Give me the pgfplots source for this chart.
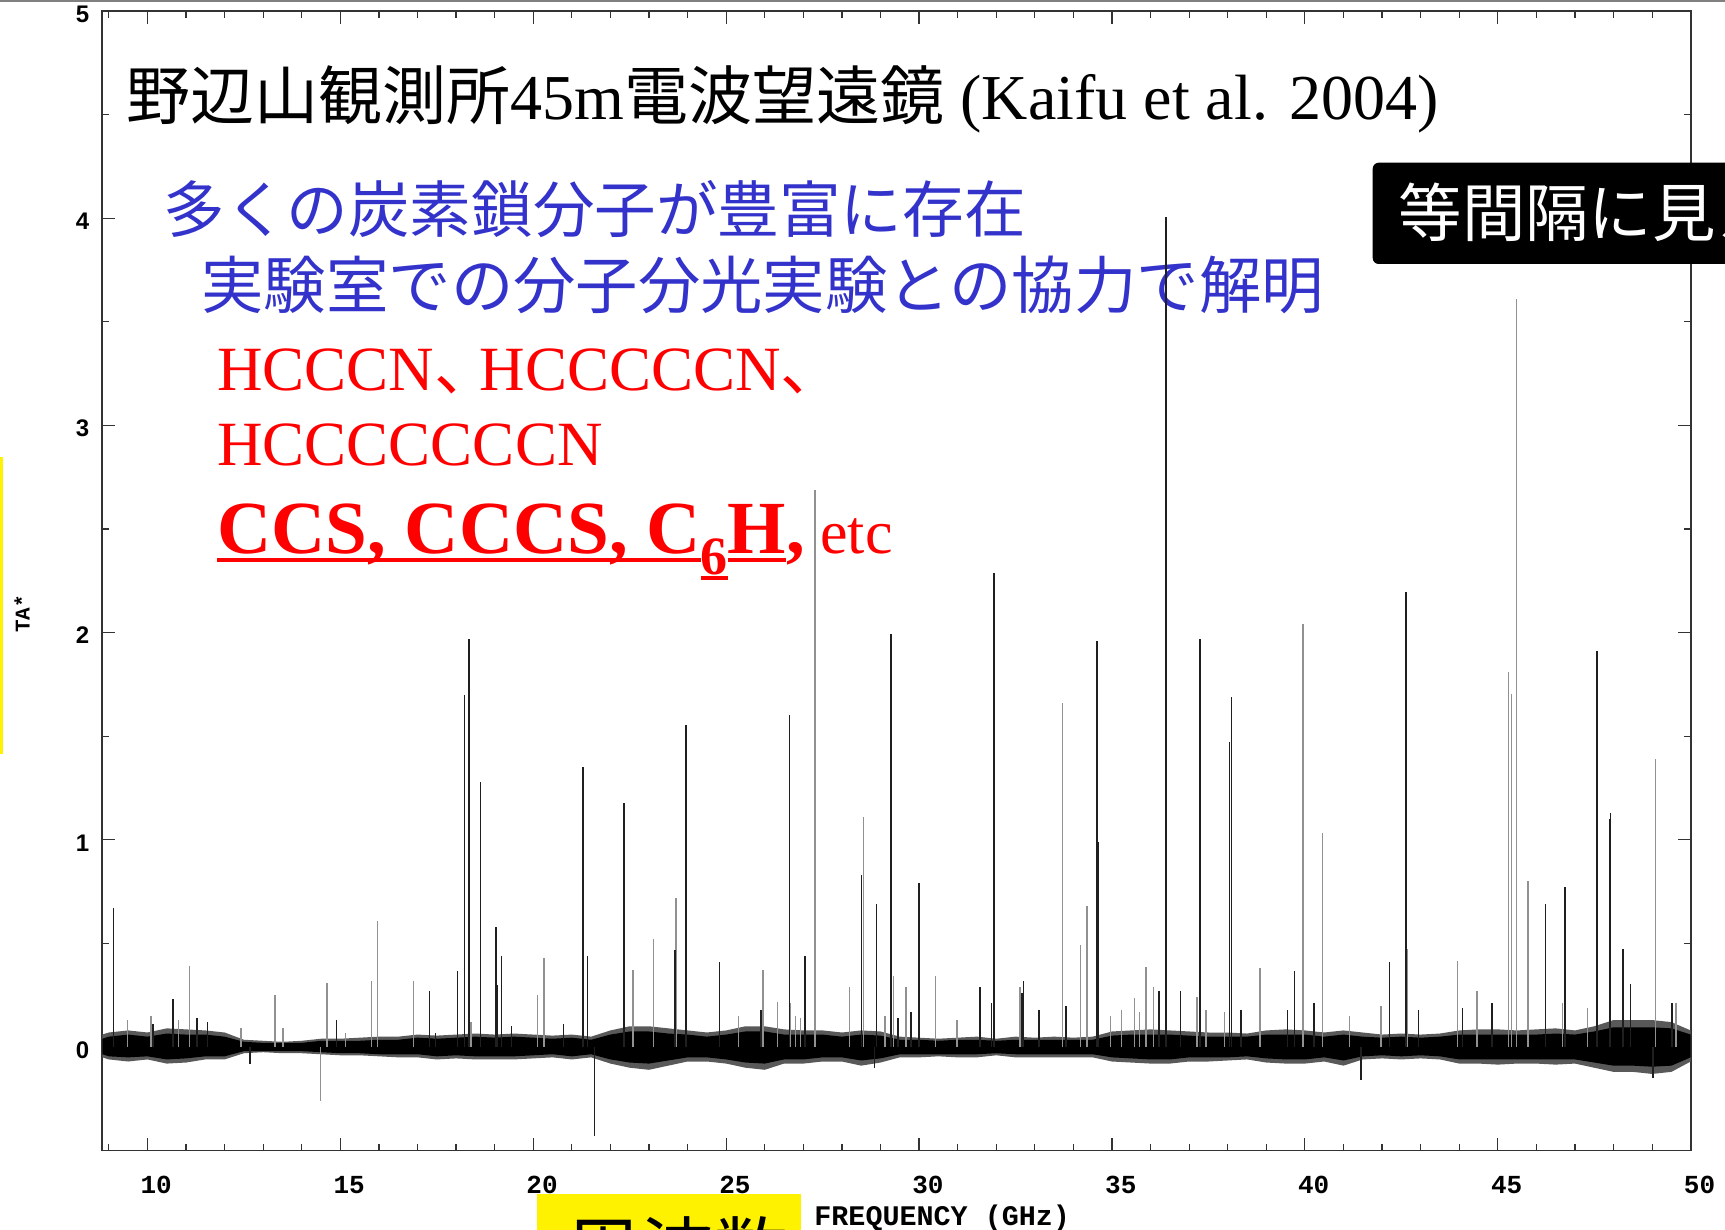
\documentclass[border=0pt]{standalone}
\usepackage{pgfplots}
\pgfplotsset{compat=1.18}
\usepackage{pgfplotstable}
\usepackage{fontspec}
\setmainfont{Liberation Serif}
\newfontfamily\jp{Noto Sans CJK JP}
\newfontfamily\monof{Liberation Mono}
\newfontfamily\sansf{Liberation Sans}
\definecolor{blueT}{RGB}{51,51,204}
\definecolor{grayline}{RGB}{145,145,145}
\newcommand\ulx[2]{\setbox0\hbox{#2}\rlap{\raisebox{-#1}{\rule{\wd0}{2pt}}}\box0}
\newcommand\jcomma{\makebox[0.72em][l]{\jp 、}}

% noise envelope: f, outer upper, outer lower, inner upper, inner lower
\pgfplotstableread{
f u l ui li
8.83 .06 -.05 .04 -.035
9.0 .07 -.06 .05 -.045
9.5 .08 -.07 .06 -.05
10.0 .07 -.06 .05 -.045
10.5 .09 -.08 .065 -.06
11.0 .085 -.075 .06 -.055
11.5 .08 -.06 .06 -.045
12.0 .07 -.06 .05 -.045
12.5 .035 -.03 .025 -.02
13.0 .03 -.025 .02 -.02
13.5 .025 -.03 .02 -.02
14.0 .03 -.03 .02 -.02
14.5 .04 -.035 .03 -.025
15.0 .04 -.04 .03 -.03
15.5 .045 -.04 .03 -.03
16.0 .05 -.045 .035 -.035
16.5 .05 -.05 .035 -.035
17.0 .06 -.05 .045 -.035
17.5 .055 -.06 .04 -.045
18.0 .06 -.055 .045 -.04
18.5 .065 -.06 .05 -.045
19.0 .06 -.06 .045 -.045
19.5 .065 -.06 .05 -.045
20.0 .06 -.055 .045 -.04
20.5 .055 -.05 .04 -.035
21.0 .06 -.06 .045 -.045
21.5 .05 -.05 .035 -.035
22.0 .08 -.08 .06 -.06
22.5 .10 -.10 .075 -.075
23.0 .10 -.11 .075 -.08
23.5 .09 -.09 .065 -.065
24.0 .08 -.07 .06 -.05
24.5 .07 -.07 .05 -.05
25.0 .08 -.08 .06 -.06
25.5 .10 -.10 .075 -.075
26.0 .10 -.11 .075 -.08
26.5 .085 -.08 .06 -.06
27.0 .08 -.08 .06 -.06
27.5 .08 -.07 .06 -.05
28.0 .07 -.07 .05 -.05
28.5 .08 -.09 .06 -.065
29.0 .075 -.075 .055 -.055
29.5 .05 -.05 .035 -.035
30.0 .045 -.05 .035 -.035
30.5 .04 -.045 .03 -.035
31.0 .045 -.05 .035 -.035
31.5 .05 -.05 .035 -.035
32.0 .04 -.04 .03 -.03
32.5 .05 -.05 .035 -.035
33.0 .045 -.05 .035 -.035
33.5 .05 -.05 .035 -.035
34.0 .045 -.05 .035 -.035
34.5 .05 -.05 .035 -.035
35.0 .075 -.07 .055 -.05
35.5 .08 -.075 .06 -.055
36.0 .085 -.08 .06 -.06
36.5 .08 -.08 .06 -.06
37.0 .075 -.07 .055 -.05
37.5 .07 -.07 .05 -.05
38.0 .07 -.065 .05 -.05
38.5 .065 -.06 .05 -.045
39.0 .08 -.075 .06 -.055
39.5 .085 -.08 .06 -.06
40.0 .08 -.08 .06 -.06
40.5 .07 -.07 .05 -.05
41.0 .08 -.09 .06 -.065
41.5 .07 -.06 .05 -.045
42.0 .06 -.055 .045 -.04
42.5 .065 -.06 .05 -.045
43.0 .06 -.055 .045 -.04
43.5 .065 -.06 .05 -.045
44.0 .08 -.08 .06 -.06
44.5 .085 -.08 .06 -.06
45.0 .085 -.085 .06 -.06
45.5 .08 -.08 .06 -.06
46.0 .085 -.08 .06 -.06
46.5 .09 -.085 .065 -.06
47.0 .08 -.08 .06 -.06
47.5 .10 -.10 .075 -.075
48.0 .13 -.12 .095 -.09
48.5 .13 -.12 .095 -.09
49.0 .13 -.13 .095 -.095
49.5 .12 -.12 .09 -.09
50.0 .08 -.07 .06 -.05
}\noise

\begin{document}
\begin{tikzpicture}
\path[use as bounding box] (0pt,0pt) rectangle (862.5pt,-615pt);
\clip (0pt,0pt) rectangle (862.5pt,-615pt);
\begin{scope}[x=0.5pt,y=-0.5pt]
  \fill[black!50] (0,0) rectangle (1725,2);
  \fill[yellow] (0,456.5) rectangle (3.3,753.5);
  % title
  \node[anchor=base west, inner sep=0] at (126.5,120)
    {\fontsize{32}{32}\selectfont{\jp 野辺山観測所}45m{\jp 電波望遠鏡} (Kaifu et al. 2004)};
  \node[anchor=base west, inner sep=0, text=blueT] at (163,233)
    {\jp\fontsize{30.8}{30.8}\selectfont 多くの炭素鎖分子が豊富に存在};
  \node[anchor=base west, inner sep=0, text=blueT] at (201,309)
    {\jp\fontsize{31.2}{31.2}\selectfont 実験室での分子分光実験との協力で解明};
  \node[anchor=base west, inner sep=0, text=red] at (217,390.7)
    {\fontsize{31.5}{31.5}\selectfont HCCCN\jcomma HCCCCCN\jcomma};
  \node[anchor=base west, inner sep=0, text=red] at (217,466)
    {\fontsize{31.5}{31.5}\selectfont HCCCCCCCN};
  \node[anchor=base west, inner sep=0, text=red] at (217,553.3)
    {\fontsize{37.5}{37.5}\selectfont\bfseries \ulx{4.35pt}{CCS, CCCS, C}\raisebox{-10.5pt}{\fontsize{27}{27}\selectfont\ulx{2.8pt}{6}}\ulx{4.35pt}{H},\mdseries\fontsize{31}{31}\selectfont\ etc};
  \node[rotate=90] at (22,614) {\monof\bfseries\fontsize{10.5}{10.5}\selectfont TA*};
  \node[anchor=west, inner sep=0] at (814,1218) {\monof\bfseries\fontsize{14.2}{14.2}\selectfont FREQUENCY (GHz)};
\end{scope}

\begin{axis}[
  at={(51.15pt,-575.3pt)}, anchor=south west,
  width=794.2pt, height=569.8pt, scale only axis,
  xmin=8.83, xmax=50, ymin=-0.5, ymax=5,
  xtick={10,15,...,50}, minor xtick={9,10,...,49},
  ytick={0,1,...,5}, minor ytick={0.5,1.5,...,4.5},
  tick align=inside,
  major tick length=6.5pt, minor tick length=3.4pt,
  axis line style={black!80, line width=0.8pt},
  tick style={black!80, line width=0.6pt},
  xticklabel style={font=\monof\bfseries\fontsize{13}{13}\selectfont, anchor=center, yshift=-17pt, xshift=4.4pt},
  yticklabel style={font=\sansf\bfseries\fontsize{12}{12}\selectfont, anchor=center, xshift=-9.9pt, yshift=-1.5pt},
  /pgf/number format/assume math mode=true,
]
  \addplot[fill=black!65, draw=none] table[x=f,y=u]{\noise} \closedcycle;
  \addplot[fill=black!65, draw=none] table[x=f,y=l]{\noise} \closedcycle;
  \addplot[fill=black, draw=none] table[x=f,y=ui]{\noise} \closedcycle;
  \addplot[fill=black, draw=none] table[x=f,y=li]{\noise} \closedcycle;

  % grey lines
  \addplot[ycomb, grayline, line width=0.7pt] coordinates {
    (9.49,0.13) (10.09,0.15) (10.81,0.13) (11.09,0.39) (12.42,0.09) (13.31,0.25)
    (13.51,0.09) (14.49,-0.26) (14.65,0.31) (15.13,0.07) (15.8,0.32) (15.96,0.61)
    (16.89,0.32) (18.39,0.12) (20.11,0.25) (20.28,0.43) (22.58,0.37) (23.12,0.52)
    (23.70,0.72) (25.32,0.15) (25.95,0.37) (26.33,0.215) (26.67,0.21) (26.79,0.15)
    (26.92,0.14) (27.30,2.69) (28.19,0.29) (28.56,1.11) (29.12,0.15) (29.33,0.345)
    (29.66,0.29) (30.43,0.345) (30.98,0.13) (32.62,0.29) (33.72,1.66) (34.18,0.49)
    (34.35,0.68) (34.96,0.15) (35.25,0.18) (35.58,0.235) (35.71,0.17) (35.88,0.385)
    (36.07,0.29) (37.20,0.24) (37.44,0.18) (37.91,0.17) (38.84,0.38) (39.95,2.04)
    (40.45,1.035) (41.15,0.15) (41.97,0.20) (42.66,0.475) (43.96,0.415) (44.46,0.27)
    (45.27,1.81) (45.36,1.705) (45.48,3.61) (45.78,0.80) (46.67,0.21) (47.33,0.19)
    (49.08,1.39) (49.62,0.21)
  };
  % black lines
  \addplot[ycomb, black!88, line width=0.7pt] coordinates {
    (9.12,0.67) (10.14,0.11) (10.66,0.23) (11.28,0.14) (11.56,0.12) (12.66,-0.08)
    (14.9,0.13) (17.31,0.27) (17.46,0.07) (18.04,0.365) (18.22,1.70) (18.33,1.97)
    (18.63,1.28) (19.03,0.58) (19.06,0.30) (19.17,0.44) (19.43,0.10) (20.78,0.11)
    (21.29,1.35) (21.41,0.44) (21.59,-0.43) (22.35,1.18) (23.67,0.47) (23.96,1.555)
    (24.82,0.41) (25.90,0.18) (26.64,1.60) (27.04,0.44) (28.51,0.83) (28.85,-0.10)
    (28.90,0.69) (29.27,1.995) (29.45,0.14) (29.79,0.17) (30.0,0.79) (31.58,0.29)
    (31.87,0.21) (31.94,2.29) (32.67,0.26) (32.71,0.32) (33.11,0.18) (33.81,0.2)
    (34.61,1.96) (34.64,0.99) (36.22,0.27) (36.40,4.005) (36.77,0.27) (37.28,1.97)
    (38.04,1.47) (38.09,1.69) (38.34,0.18) (39.55,0.18) (39.73,0.365) (40.24,0.21)
    (41.45,-0.16) (42.19,0.41) (42.62,2.195) (42.95,0.18) (44.08,0.19) (44.85,0.21)
    (46.24,0.69) (46.74,0.77) (47.57,1.91) (47.58,1.46) (47.89,1.10) (47.92,1.13)
    (48.25,0.475) (48.44,0.305) (49.02,-0.15) (49.52,0.21)
  };
\end{axis}

\begin{scope}[x=0.5pt,y=-0.5pt]
  \fill[black, rounded corners=3pt] (1372.7,162.7) rectangle (1780,264);
  \node[anchor=base west, inner sep=0, text=white] at (1398.3,237)
    {\jp\fontsize{31.7}{31.7}\selectfont 等間隔に見える};
  \fill[yellow] (537,1194) rectangle (801,1240);
  \node[anchor=base west, inner sep=0] at (566.5,1278)
    {\jp\fontsize{36.8}{36.8}\selectfont 周波数};
\end{scope}
\end{tikzpicture}
\end{document}
